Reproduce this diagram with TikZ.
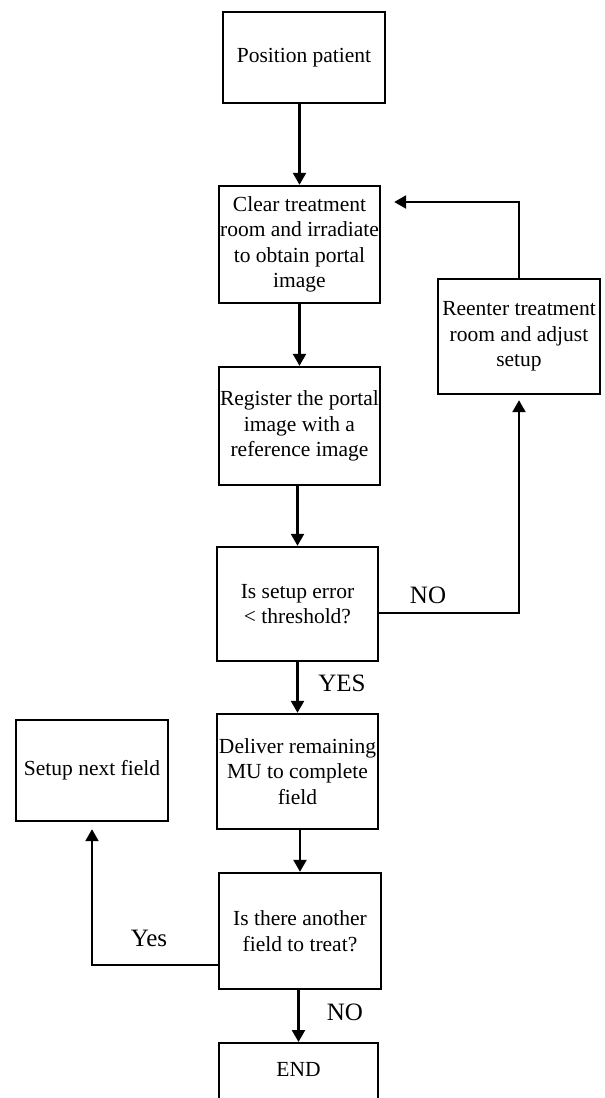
\documentclass[tikz,border=0pt]{standalone}
\usepackage{fontspec}
\setmainfont{Liberation Serif}
\usetikzlibrary{arrows.meta}
\begin{document}
\begin{tikzpicture}[x=1pt,y=-1pt,
  box/.style={draw, line width=2.4pt, rectangle, align=center, inner sep=0pt,
    font=\fontsize{21.5}{25.5}\selectfont},
  arr/.style={draw, line width=2.4pt, -{Triangle[width=13pt,length=12pt]}},
  lbl/.style={font=\fontsize{25}{28}\selectfont, inner sep=0pt}]
\useasboundingbox (0,0) rectangle (605,1098);
\node[box, minimum width=162pt, minimum height=91pt] (pos) at (304,57.5) {Position patient};
\node[box, minimum width=161pt, minimum height=117pt] (clear) at (299.5,244.5) {Clear treatment\\room and irradiate\\to obtain portal\\image};
\node[box, minimum width=161pt, minimum height=118pt] (reg) at (299.5,426) {Register the portal\\image with a\\reference image};
\node[box, minimum width=161pt, minimum height=114pt] (err) at (297.5,604) {Is setup error\\< threshold?};
\node[box, minimum width=162pt, minimum height=115pt] (reent) at (519,336.5) {Reenter treatment\\room and adjust\\setup};
\node[box, minimum width=161pt, minimum height=115pt] (deliv) at (297.5,771.5) {Deliver remaining\\MU to complete\\field};
\node[box, minimum width=152pt, minimum height=101pt] (setup) at (92,770.5) {Setup next field};
\node[box, minimum width=162pt, minimum height=116pt] (another) at (300,931) {Is there another\\field to treat?};
\node[box, anchor=north, minimum width=159pt, inner ysep=19pt, text height=14pt, text depth=40pt] (end) at (298.5,1042) {END};

\draw[arr] (clear.north |- pos.south) -- (clear.north);
\draw[arr] (clear.south) -- (clear.south |- reg.north);
\draw[arr] (reg.south -| err.north) -- (err.north);
\draw[arr] (err.south) -- (deliv.north);
\draw[arr] (deliv.south -| another.north) -- (another.north);
\draw[arr] (another.south -| end.north) -- (end.north);
\draw[arr, shorten >=5pt] ([yshift=-9pt]err.east) -| (reent.south);
\draw[arr, shorten >=13pt] (reent.north) |- ([yshift=42.5pt]clear.east);
\draw[arr, shorten >=7pt] ([yshift=-34pt]another.west) -| (setup.south);

\node[lbl] (no1) at (428,595) {NO};
\node[lbl] (yes1) at (342,683) {YES};
\node[lbl] (yes2) at (149,938) {Yes};
\node[lbl] (no2) at (345,1012) {NO};
\end{tikzpicture}
\end{document}
